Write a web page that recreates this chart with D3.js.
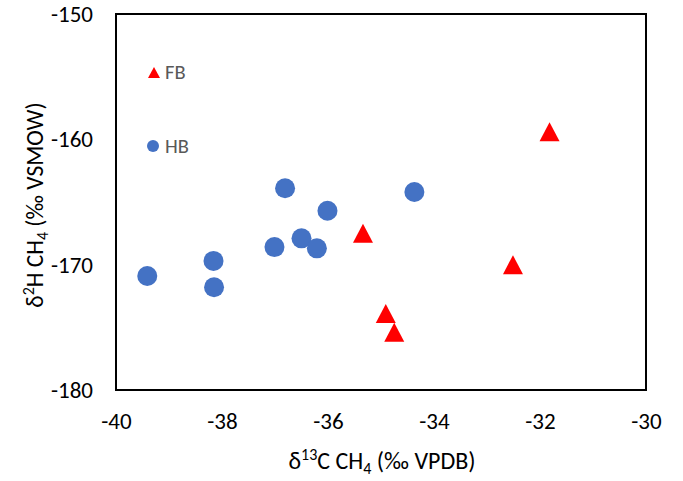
<!DOCTYPE html>
<html>
<head>
<meta charset="utf-8">
<script src="https://cdn.jsdelivr.net/npm/d3@7"></script>
<style>
  html, body { margin: 0; padding: 0; background: #fff; }
  svg { display: block; font-family: Carlito, Calibri, Lato, sans-serif; }
</style>
</head>
<body>
<svg id="chart" width="683" height="481"></svg>
<script>
// Data
const hbX = [-39.41, -38.16, -38.15, -37.01, -36.50, -36.21, -36.01, -36.81, -34.37];
const hbY = [-170.9, -169.7, -171.8, -168.6, -167.9, -168.7, -165.7, -163.9, -164.2];
const fbX = [-31.82, -35.34, -32.51, -34.91, -34.75];
const fbY = [-159.4, -167.5, -170.0, -173.9, -175.4];
const xTicks = [-40, -38, -36, -34, -32, -30];
const yTicks = [-180, -170, -160, -150];
const seriesNames = ["FB", "HB"];

const svg = d3.select("#chart");
const pL = 116, pR = 646, pT = 14, pB = 390;

const x = d3.scaleLinear().domain([-40, -30]).range([pL, pR]);
const y = d3.scaleLinear().domain([-180, -150]).range([pB, pT]);

// Axis tick labels via d3 axes (no tick lines)
const xAxis = svg.append("g")
  .attr("transform", `translate(0,${pB})`)
  .call(d3.axisBottom(x).tickValues(xTicks).tickSize(0).tickPadding(23).tickFormat(d => d));
xAxis.select(".domain").remove();
xAxis.selectAll("text").attr("font-size", 23).attr("fill", "#000");
xAxis.attr("font-family", null);

const yAxis = svg.append("g")
  .attr("transform", `translate(${pL},0)`)
  .call(d3.axisLeft(y).tickValues(yTicks).tickSize(0).tickPadding(23).tickFormat(d => d));
yAxis.select(".domain").remove();
yAxis.selectAll("text").attr("font-size", 23).attr("fill", "#000");
yAxis.attr("font-family", null);

// Plot border
svg.append("rect")
  .attr("x", pL).attr("y", pT)
  .attr("width", pR - pL).attr("height", pB - pT)
  .attr("fill", "none").attr("stroke", "#000").attr("stroke-width", 2);

const tri = (cx, cy, w, h) => `M${cx - w / 2},${cy + h / 2}L${cx},${cy - h / 2}L${cx + w / 2},${cy + h / 2}Z`;

// HB circles
svg.append("g").selectAll("circle")
  .data(d3.range(hbX.length))
  .join("circle")
  .attr("cx", i => x(hbX[i]))
  .attr("cy", i => y(hbY[i]))
  .attr("r", 10)
  .attr("fill", "#4472C4");

// FB triangles
svg.append("g").selectAll("path")
  .data(d3.range(fbX.length))
  .join("path")
  .attr("d", i => tri(x(fbX[i]), y(fbY[i]), 20, 19))
  .attr("fill", "#FF0000");

// Legend
const leg = svg.append("g");
leg.append("path").attr("d", tri(154, 72.5, 12, 11)).attr("fill", "#FF0000");
leg.append("text").attr("x", 165).attr("y", 72.5).attr("dy", "0.34em")
  .attr("font-size", 20.5).attr("fill", "#595959").text(seriesNames[0]);
leg.append("circle").attr("cx", 153).attr("cy", 146).attr("r", 6).attr("fill", "#4472C4");
leg.append("text").attr("x", 165).attr("y", 146).attr("dy", "0.34em")
  .attr("font-size", 20.5).attr("fill", "#595959").text(seriesNames[1]);

// X axis title
const xt = svg.append("text")
  .attr("x", 382).attr("y", 469)
  .attr("text-anchor", "middle").attr("font-size", 24).attr("fill", "#000");
xt.append("tspan").text("δ");
xt.append("tspan").attr("font-size", 16).attr("dy", -9).text("13");
xt.append("tspan").attr("dy", 9).text("C CH");
xt.append("tspan").attr("font-size", 16).attr("dy", 5).text("4");
xt.append("tspan").attr("dy", -5).text(" (‰ VPDB)");

// Y axis title
const yt = svg.append("text")
  .attr("transform", `translate(43,205) rotate(-90)`)
  .attr("text-anchor", "middle").attr("font-size", 23.5).attr("fill", "#000");
yt.append("tspan").text("δ");
yt.append("tspan").attr("font-size", 16).attr("dy", -9).text("2");
yt.append("tspan").attr("dy", 9).text("H CH");
yt.append("tspan").attr("font-size", 16).attr("dy", 5).text("4");
yt.append("tspan").attr("dy", -5).text(" (‰ VSMOW)");
</script>
</body>
</html>
